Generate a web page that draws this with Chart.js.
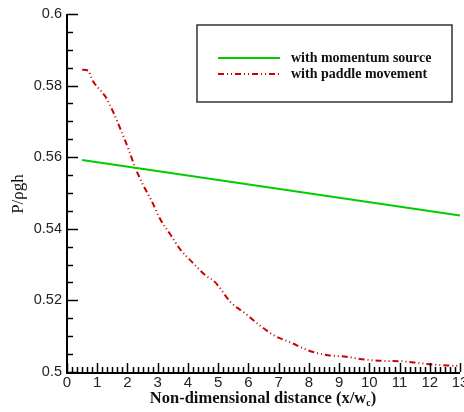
<!DOCTYPE html>
<html><head><meta charset="utf-8">
<script src="https://cdn.jsdelivr.net/npm/chart.js@4"></script>
<style>html,body{margin:0;padding:0;background:#fff}#wrap{width:464px;height:412px}</style>
</head><body><div id="wrap"><canvas id="c" width="464" height="412"></canvas></div>
<script>
const xTickLabels = ['0','1','2','3','4','5','6','7','8','9','10','11','12','13'];
const yTickLabels = ['0.5','0.52','0.54','0.56','0.58','0.6'];
const momentumX = [0.5, 13];
const momentumY = [0.5592, 0.5437];
const paddleX = [0.5, 0.7, 0.86, 1.05, 1.28, 1.54, 1.8, 2.04, 2.26, 2.51, 2.81, 3.09, 3.42, 3.75, 4.14, 4.58, 4.85, 5.03, 5.25, 5.42, 5.86, 6.38, 6.85, 7.41, 7.96, 8.63, 9.18, 9.84, 10.5, 11.06, 11.73, 12.39, 13.0];
const paddleY = [0.5844, 0.5842, 0.5812, 0.5792, 0.5768, 0.5724, 0.5672, 0.5621, 0.5570, 0.5524, 0.5476, 0.5426, 0.5384, 0.5342, 0.5307, 0.5270, 0.5255, 0.5238, 0.5212, 0.5194, 0.5166, 0.5130, 0.5102, 0.5082, 0.5061, 0.5047, 0.5043, 0.5035, 0.5031, 0.5030, 0.5024, 0.5019, 0.5017];
const seriesLabels = ['with momentum source', 'with paddle movement'];

const toPts = (xs, ys) => xs.map((x, i) => ({x, y: ys[i]}));

const decor = {
  id: 'decor',
  afterDraw(chart) {
    const ctx = chart.ctx, xs = chart.scales.x, ys = chart.scales.y, a = chart.chartArea;
    ctx.save();
    ctx.strokeStyle = '#000';
    ctx.lineWidth = 2;
    ctx.beginPath();
    ctx.moveTo(a.left, a.top); ctx.lineTo(a.left, a.bottom + 1); ctx.lineTo(a.right, a.bottom + 1);
    ctx.stroke();
    ctx.lineWidth = 1.5;
    for (let v = 0.5; v <= 0.6001; v += 0.005) {
      const py = Math.round(ys.getPixelForValue(v)) + 0.5;
      const major = Math.abs(v * 50 - Math.round(v * 50)) < 1e-6;
      ctx.beginPath(); ctx.moveTo(a.left, py); ctx.lineTo(a.left + (major ? 11 : 6), py); ctx.stroke();
    }
    for (let i = 0; i <= 13 * 6; i++) {
      const v = i / 6;
      const px = Math.round(xs.getPixelForValue(v)) + 0.5;
      const major = i % 6 === 0;
      ctx.beginPath(); ctx.moveTo(px, a.bottom); ctx.lineTo(px, a.bottom - (major ? 9 : 5)); ctx.stroke();
    }
    ctx.lineWidth = 1.5; ctx.strokeStyle = '#333';
    ctx.strokeRect(197, 25, 255, 77);
    const ds = chart.data.datasets;
    [58, 74].forEach((ly, i) => {
      ctx.strokeStyle = ds[i].borderColor; ctx.lineWidth = 2;
      ctx.setLineDash(ds[i].borderDash || []);
      ctx.beginPath(); ctx.moveTo(218, ly); ctx.lineTo(280, ly); ctx.stroke();
      ctx.setLineDash([]);
      ctx.fillStyle = '#111'; ctx.font = 'bold 14px "Liberation Serif"';
      ctx.textBaseline = 'middle'; ctx.textAlign = 'left';
      ctx.fillText(ds[i].label, 291, ly);
    });
    ctx.fillStyle = '#111';
    ctx.textBaseline = 'alphabetic';
    const main = 'Non-dimensional distance (x/w';
    ctx.font = 'bold 16.5px "Liberation Serif"';
    const w1 = ctx.measureText(main).width;
    ctx.font = 'bold 10px "Liberation Serif"';
    const w2 = ctx.measureText('c').width;
    ctx.font = 'bold 16.5px "Liberation Serif"';
    const w3 = ctx.measureText(')').width;
    const total = w1 + w2 + w3;
    let x0 = 263 - total / 2, by = 403;
    ctx.fillText(main, x0, by);
    ctx.font = 'bold 10px "Liberation Serif"';
    ctx.fillText('c', x0 + w1, by + 3);
    ctx.font = 'bold 16.5px "Liberation Serif"';
    ctx.fillText(')', x0 + w1 + w2, by);
    ctx.translate(19, 194);
    ctx.rotate(-Math.PI / 2);
    ctx.textAlign = 'center'; ctx.textBaseline = 'middle';
    ctx.font = '17px "Liberation Serif"';
    ctx.fillText('P/\u03c1gh', 0, 0);
    ctx.restore();
  }
};

new Chart(document.getElementById('c'), {
  type: 'scatter',
  data: {
    datasets: [
      { label: seriesLabels[0], data: toPts(momentumX, momentumY), showLine: true, borderColor: '#00cc00', borderWidth: 2, pointRadius: 0, fill: false, tension: 0 },
      { label: seriesLabels[1], data: toPts(paddleX, paddleY), showLine: true, borderColor: '#cc0000', borderWidth: 2, borderDash: [6, 3, 1, 3, 1, 3], pointRadius: 0, fill: false, cubicInterpolationMode: 'monotone' }
    ]
  },
  plugins: [decor],
  options: {
    responsive: false, animation: false,
    layout: { padding: { left: 0, right: 4, top: 14, bottom: 0 } },
    plugins: { legend: { display: false }, tooltip: { enabled: false } },
    scales: {
      x: {
        type: 'linear', min: 0, max: 13,
        grid: { display: false, drawTicks: false }, border: { display: false },
        afterBuildTicks: s => { s.ticks = xTickLabels.map(t => ({ value: Number(t) })); },
        ticks: { padding: 2, color: '#222', font: { family: '"Liberation Sans"', size: 15 }, callback: (v, i) => xTickLabels[i], maxRotation: 0, autoSkip: false },
        afterFit: s => { s.height = 40; s.paddingLeft = 0; s.paddingRight = 0; }
      },
      y: {
        type: 'linear', min: 0.5, max: 0.6,
        grid: { display: false, drawTicks: false }, border: { display: false },
        afterBuildTicks: s => { s.ticks = yTickLabels.map(t => ({ value: Number(t) })); },
        ticks: { padding: 5, color: '#222', font: { family: '"Liberation Sans"', size: 14.5 }, callback: (v, i) => yTickLabels[i] },
        afterFit: s => { s.width = 67; s.paddingTop = 0; s.paddingBottom = 0; }
      }
    }
  }
});
</script></body></html>
